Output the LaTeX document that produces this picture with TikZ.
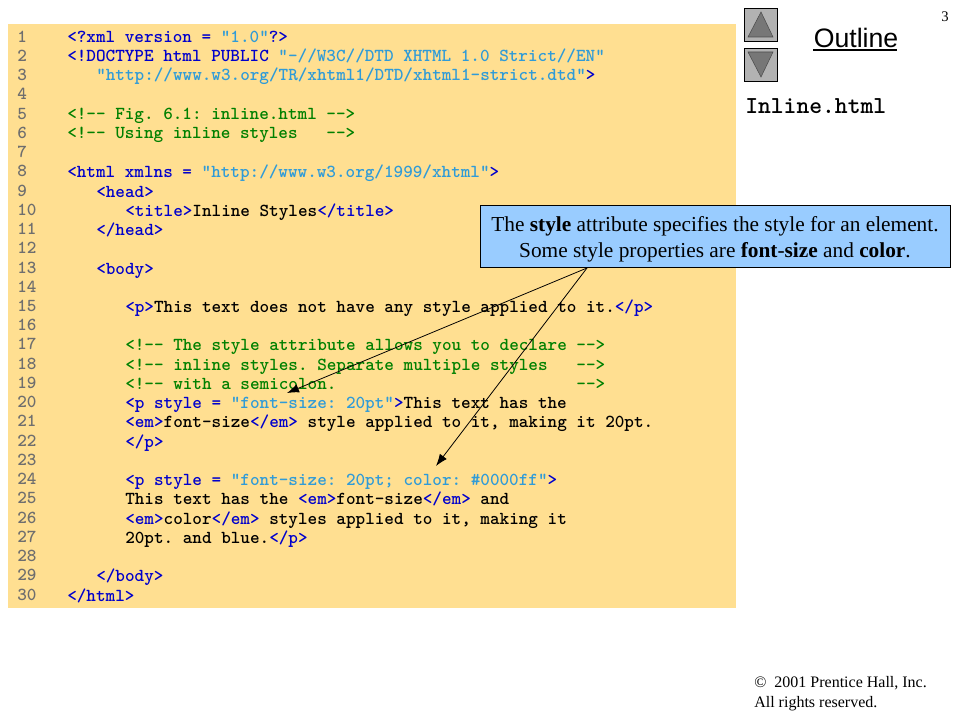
\documentclass[tikz,border=0pt]{standalone}
\usepackage{fontspec}
\usetikzlibrary{arrows.meta}
\setmainfont{Liberation Serif}
\newfontfamily\outlinefont{Liberation Sans}
\definecolor{codebg}{HTML}{FFDF91}
\definecolor{notebg}{HTML}{99CCFF}
\definecolor{tagblue}{HTML}{0000CC}
\definecolor{strblue}{HTML}{2F9BD8}
\definecolor{cmtgreen}{HTML}{008000}
\definecolor{numgray}{HTML}{6E6E6E}
\definecolor{btnface}{HTML}{B2B2B2}
\definecolor{btnmark}{HTML}{777777}
\newcommand{\tg}[1]{\textcolor{tagblue}{#1}}
\newcommand{\str}[1]{\textcolor{strblue}{#1}}
\newcommand{\cmt}[1]{\textcolor{cmtgreen}{#1}}
\begin{document}
\begin{tikzpicture}[x=0.75pt,y=-0.75pt]
\tikzstyle{codeline}=[anchor=base west,inner sep=0pt,yshift=-3.85pt,font=\ttfamily\bfseries\fontsize{13.714pt}{13.714pt}\selectfont\frenchspacing]
\tikzstyle{lineno}=[codeline,text=numgray]
\tikzstyle{button}=[draw=black,fill=btnface,line width=0.6pt]
\tikzstyle{btnarrow}=[draw=black!70,fill=btnmark,line width=0.4pt]
\useasboundingbox (0,0) rectangle (960,720);
\fill [codebg] (8,24) rectangle (736,608);
\foreach \n in {1,...,30} {
  \node [lineno] (num\n) at (17,{37+(\n-1)*19.24}) {\n};
}
\node [codeline] (code1) at (67,37) {\tg{<?xml version = }\str{"1.0"}\tg{?>}};
\node [codeline] (code2) at (67,56.2) {\tg{<!DOCTYPE html PUBLIC }\str{"-//W3C//DTD XHTML 1.0 Strict//EN"}};
\node [codeline] (code3) at (96,75.5) {\str{"http://www.w3.org/TR/xhtml1/DTD/xhtml1-strict.dtd"}\tg{>}};
\node [codeline] (code5) at (67,114) {\cmt{<!-- Fig. 6.1: inline.html -->}};
\node [codeline] (code6) at (67,133.2) {\cmt{<!-- Using inline styles~~~-->}};
\node [codeline] (code8) at (67,172.7) {\tg{<html xmlns = }\str{"http://www.w3.org/1999/xhtml"}\tg{>}};
\node [codeline] (code9) at (96,192) {\tg{<head>}};
\node [codeline] (code10) at (125,211.2) {\tg{<title>}Inline Styles\tg{</title>}};
\node [codeline] (code11) at (96,230.4) {\tg{</head>}};
\node [codeline] (code13) at (96,269) {\tg{<body>}};
\node [codeline] (code15) at (125,307.3) {\tg{<p>}This text does not have any style applied to it.\tg{</p>}};
\node [codeline] (code17) at (125,345.8) {\cmt{<!-- The style attribute allows you to declare -->}};
\node [codeline] (code18) at (125,365) {\cmt{<!-- inline styles. Separate multiple styles~~~-->}};
\node [codeline] (code19) at (125,384.3) {\cmt{<!-- with a semicolon.\hspace*{180pt}-->}};
\node [codeline] (code20) at (125,403.6) {\tg{<p style = }\str{"font-size: 20pt"}\tg{>}This text has the};
\node [codeline] (code21) at (125,422.8) {\tg{<em>}font-size\tg{</em>} style applied to it, making it 20pt.};
\node [codeline] (code22) at (125,442) {\tg{</p>}};
\node [codeline] (code24) at (125,480.5) {\tg{<p style = }\str{"font-size: 20pt; color: \#0000ff"}\tg{>}};
\node [codeline] (code25) at (125,499.8) {This text has the \tg{<em>}font-size\tg{</em>} and};
\node [codeline] (code26) at (125,519) {\tg{<em>}color\tg{</em>} styles applied to it, making it};
\node [codeline] (code27) at (125,538.2) {20pt. and blue.\tg{</p>}};
\node [codeline] (code29) at (96,576.7) {\tg{</body>}};
\node [codeline] (code30) at (67,596) {\tg{</html>}};
\draw [button] (744,8) rectangle (777,41);
\draw [btnarrow] (761,12) -- (773,37) -- (748,37) -- cycle;
\draw [button] (744,48) rectangle (777,81);
\draw [btnarrow] (761,77) -- (773,52) -- (748,52) -- cycle;
\node [anchor=base,inner sep=0pt,font=\outlinefont\fontsize{20pt}{20pt}\selectfont] (outline) at (856,48) {Outline};
\draw [black,line width=1.2pt] (outline.base west) ++(0,2.2) -- ++(84,0);
\node [inner sep=0pt,font=\fontsize{11pt}{11pt}\selectfont] (pagenum) at (945,17) {3};
\node [anchor=base west,inner sep=0pt,font=\ttfamily\bfseries\fontsize{18.3pt}{18.3pt}\selectfont] (filename) at (745,114) {Inline.html};
\node [draw=black,fill=notebg,line width=0.7pt,minimum width=352.5pt,minimum height=46.5pt,inner sep=0pt,align=center,font=\fontsize{16pt}{19.5pt}\selectfont] (note) at (715,236) {\rule{0pt}{15.5pt}The \textbf{style} attribute specifies the style for an element.\\Some style properties are \textbf{font}-\textbf{size} and \textbf{color}.};
\coordinate (notefoot) at (587,268);
\coordinate (tipone) at (287,393);
\coordinate (tiptwo) at (436,466);
\draw [black,line width=0.6pt,-{Latex[length=9pt,width=6.5pt]}] (notefoot) -- (tipone);
\draw [black,line width=0.6pt,-{Latex[length=9pt,width=6.5pt]}] (notefoot) -- (tiptwo);
\node [anchor=base west,inner sep=0pt,font=\fontsize{12pt}{12pt}\selectfont] (copyright) at (754,687) {\copyright\hspace*{3pt} 2001 Prentice Hall, Inc.};
\node [anchor=base west,inner sep=0pt,font=\fontsize{12pt}{12pt}\selectfont] (rights) at (754,707) {All rights reserved.};
\end{tikzpicture}
\end{document}
